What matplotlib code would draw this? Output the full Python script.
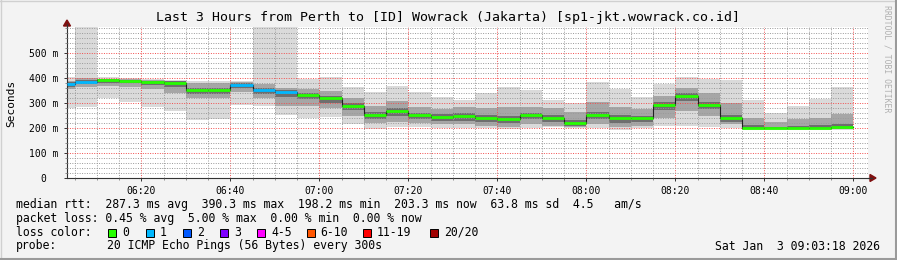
import matplotlib
matplotlib.use("Agg")
import matplotlib.pyplot as plt
from matplotlib.patches import Polygon, Rectangle
from matplotlib.lines import Line2D

W, H, DPI = 897, 260, 100

# ---------------- data ----------------
start_time = "06:03:18"
end_time = "09:03:18"
step_ends = ["06:05", "06:10", "06:15", "06:20", "06:25", "06:30", "06:35", "06:40",
             "06:45", "06:50", "06:55", "07:00", "07:05", "07:10", "07:15", "07:20",
             "07:25", "07:30", "07:35", "07:40", "07:45", "07:50", "07:55", "08:00",
             "08:05", "08:10", "08:15", "08:20", "08:25", "08:30", "08:35", "08:40",
             "08:45", "08:50", "08:55", "09:00"]
median_ms = [376, 386, 390.3, 389, 384, 381, 352, 352, 373, 352, 344, 332,
             320, 289, 253, 269, 253, 245, 249, 241, 235, 253, 241, 221,
             253, 241, 241, 293, 329, 293, 241, 201, 198.2, 200, 200, 203.3]
loss_count = [1, 1, 0, 0, 0, 0, 0, 0, 1, 1, 1, 0,
              0, 0, 0, 0, 0, 0, 0, 0, 0, 0, 0, 0,
              0, 0, 0, 0, 0, 0, 0, 0, 0, 0, 0, 0]
smoke_max = [405, 620, 403, 399, 395, 392, 387, 388, 388, 620, 620, 395,
             403, 365, 345, 368, 345, 323, 312, 341, 365, 352, 312, 300,
             383, 355, 325, 375, 403, 396, 392, 312, 261, 288, 316, 365]
smoke_min = [282, 284, 321, 305, 284, 269, 232, 236, 292, 290, 252, 239,
             245, 215, 195, 203, 203, 199, 199, 199, 195, 199, 203, 199,
             199, 192, 199, 208, 210, 203, 199, 192, 192, 192, 192, 192]
smoke_q_hi = [390, 400, 398, 395, 392, 390, 380, 380, 385, 375, 360, 355,
              350, 320, 290, 310, 285, 275, 285, 280, 285, 285, 280, 265,
              305, 285, 275, 330, 360, 340, 300, 240, 225, 235, 240, 255]
smoke_q_lo = [355, 365, 370, 365, 355, 340, 320, 320, 345, 320, 290, 290,
              280, 250, 220, 225, 220, 215, 215, 210, 205, 215, 210, 205,
              215, 205, 210, 240, 270, 250, 215, 198, 196, 196, 197, 198]
smoke_core_hi = [385, 392, 396, 394, 390, 387, 362, 362, 380, 362, 352, 342,
                 330, 300, 265, 280, 262, 255, 260, 252, 250, 262, 252, 232,
                 265, 252, 250, 305, 340, 305, 252, 212, 206, 210, 212, 215]
smoke_core_lo = [365, 375, 382, 380, 372, 365, 338, 338, 362, 338, 325, 315,
                 302, 272, 238, 250, 236, 228, 230, 225, 220, 235, 225, 210,
                 235, 222, 225, 272, 310, 275, 225, 199, 197, 197, 198, 199]
y_ticks = [0, 100, 200, 300, 400, 500]
y_tick_labels = ["0  ", "100 m", "200 m", "300 m", "400 m", "500 m"]
x_tick_labels = ["06:20", "06:40", "07:00", "07:20", "07:40", "08:00", "08:20", "08:40", "09:00"]
loss_legend = ["0", "1", "2", "3", "4-5", "6-10", "11-19", "20/20"]
loss_colors = ["#26ff00", "#00b8ff", "#0059ff", "#7e00ff", "#ff00ff", "#ff5500", "#ff0000", "#a00000"]

title = "Last 3 Hours from Perth to [ID] Wowrack (Jakarta) [sp1-jkt.wowrack.co.id]"
stats_line = "median rtt:  287.3 ms avg  390.3 ms max  198.2 ms min  203.3 ms now  63.8 ms sd  4.5   am/s"
loss_line = "packet loss: 0.45 % avg  5.00 % max  0.00 % min  0.00 % now"
probe_label = "probe:"
probe_text = "20 ICMP Echo Pings (56 Bytes) every 300s"
date_text = "Sat Jan  3 09:03:18 2026"


def to_min(s):
    parts = [int(p) for p in s.split(":")]
    while len(parts) < 3:
        parts.append(0)
    return (parts[0] - 6) * 60 + parts[1] + parts[2] / 60.0


x0 = to_min(start_time)
x1 = to_min(end_time)
edges = [x0] + [to_min(s) for s in step_ends]
lefts = edges[:-1]
widths = [b - a for a, b in zip(edges[:-1], edges[1:])]
rights = edges[1:]

MONO = "DejaVu Sans Mono"
plt.rcParams["font.family"] = MONO

fig = plt.figure(figsize=(W / DPI, H / DPI), dpi=DPI, facecolor="#f3f3f3")


def fx(x):
    return x / W


def fy(y):
    return 1 - y / H


ax = fig.add_axes([fx(67), fy(178), (868 - 67) / W, (178 - 27) / H])
ax.set_facecolor("white")
ax.set_xlim(x0, x1)
ax.set_ylim(0, 604)


def band(lo, hi, color, z):
    ax.bar(lefts, [h - l for h, l in zip(hi, lo)], bottom=lo, width=widths,
           align="edge", color=color, linewidth=0, zorder=z)


# smoke
band(smoke_min, smoke_max, "#dadada", 1.0)
band(smoke_q_lo, smoke_q_hi, "#a6a6a6", 1.1)
band(smoke_core_lo, smoke_core_hi, "#6e6e6e", 1.2)

# median step connectors and colored medians
ax.step(edges, median_ms + [median_ms[-1]], where="post", color="#202020",
        linewidth=0.8, zorder=3)
ax.hlines(median_ms, lefts, rights,
          colors=[loss_colors[c] for c in loss_count], linewidth=2.0, zorder=4)

# ticks and grid
ax.set_xticks([to_min(s) for s in x_tick_labels])
ax.set_xticklabels(x_tick_labels)
ax.set_xticks([to_min(s) for s in step_ends], minor=True)
ax.set_yticks(y_ticks)
ax.set_yticklabels(y_tick_labels)
ax.set_yticks(list(range(0, 601, 20)), minor=True)
ax.tick_params(axis="both", which="major", labelsize=7, length=2, width=0.7,
               color="#333333", labelcolor="#000000")
ax.tick_params(axis="both", which="minor", length=1.5, width=0.5, color="#666666")
ax.tick_params(axis="x", pad=4)
ax.tick_params(axis="y", pad=4)
ax.set_axisbelow(False)
ax.grid(which="minor", color=(0.6, 0.6, 0.6, 0.25), linestyle=(0, (1, 1.5)), linewidth=0.7)
ax.grid(which="major", color=(0.95, 0.3, 0.3, 0.5), linestyle=(0, (1, 1.5)), linewidth=0.7)
for s in ["top", "right"]:
    ax.spines[s].set_visible(False)
ax.spines["left"].set_color("#333333")
ax.spines["bottom"].set_color("#333333")
ax.spines["left"].set_linewidth(0.8)
ax.spines["bottom"].set_linewidth(0.8)

# axis extensions and arrows (figure pixels)
fig.add_artist(Line2D([fx(868), fx(872)], [fy(178), fy(178)], color="#333333", lw=0.8))
fig.add_artist(Line2D([fx(67), fx(67)], [fy(27), fy(24)], color="#333333", lw=0.8))
fig.add_artist(Polygon([(fx(870), fy(174.5)), (fx(876), fy(178)), (fx(870), fy(181.5))],
                       closed=True, color="#7f1010", transform=fig.transFigure))
fig.add_artist(Polygon([(fx(63.5), fy(26)), (fx(67), fy(20)), (fx(70.5), fy(26))],
                       closed=True, color="#7f1010", transform=fig.transFigure))

# texts
fig.text(fx(448), fy(18), title, ha="center", va="center", fontsize=9.5)
fig.text(fx(11), fy(103), "Seconds", ha="center", va="center", rotation=90, fontsize=8)
fig.text(fx(887), fy(5), "RRDTOOL / TOBI OETIKER", ha="center", va="top", rotation=270,
         fontsize=5.9, color="#b0b0b0")

fig.text(fx(16), fy(204.5), stats_line, ha="left", va="center", fontsize=8.3)
fig.text(fx(16), fy(218.5), loss_line, ha="left", va="center", fontsize=8.3)
fig.text(fx(16), fy(232), "loss color:", ha="left", va="center", fontsize=8.3)
sq_x = [108.3, 145.7, 182.7, 220, 257.3, 306.7, 362.7, 430]
for lab, col, sx in zip(loss_legend, loss_colors, sq_x):
    fig.add_artist(Rectangle((fx(sx), fy(236.5)), 8 / W, 8 / H, facecolor=col,
                             edgecolor="black", linewidth=0.7, transform=fig.transFigure))
    fig.text(fx(sx + 14), fy(232), lab, ha="left", va="center", fontsize=8.3)
fig.text(fx(16), fy(246), probe_label, ha="left", va="center", fontsize=8.3)
fig.text(fx(107), fy(246), probe_text, ha="left", va="center", fontsize=8.3)
fig.text(fx(880), fy(246), date_text, ha="right", va="center", fontsize=8.3)

# frame
fig.add_artist(Line2D([0, 1], [fy(0.5), fy(0.5)], color="#d0d0d0", lw=1))
fig.add_artist(Line2D([fx(0.5), fx(0.5)], [0, 1], color="#d0d0d0", lw=1))
fig.add_artist(Line2D([0, 1], [fy(259), fy(259)], color="#9a9a9a", lw=1.5))
fig.add_artist(Line2D([fx(896), fx(896)], [0, 1], color="#9a9a9a", lw=1.5))

fig.savefig("out.png", dpi=DPI, facecolor=fig.get_facecolor())
